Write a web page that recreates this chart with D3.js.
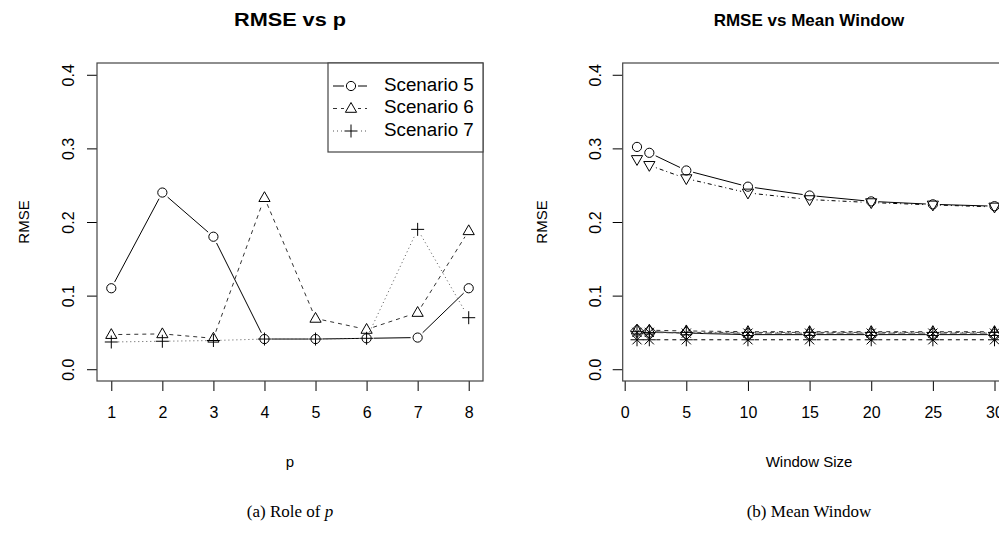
<!DOCTYPE html>
<html>
<head>
<meta charset="utf-8">
<script src="https://cdn.jsdelivr.net/npm/d3@7"></script>
<style>
  body { margin: 0; background: #fff; }
  svg { display: block; }
  text { font-family: "Liberation Sans", Arial, sans-serif; fill: #000; }
  .caption { font-family: "Liberation Serif", "Times New Roman", serif; }
</style>
</head>
<body>
<svg id="viz"></svg>
<script>
// 1. Data
const pValues = [1, 2, 3, 4, 5, 6, 7, 8];
const scenario5 = [0.110, 0.240, 0.180, 0.041, 0.041, 0.042, 0.043, 0.110];
const scenario6 = [0.047, 0.048, 0.042, 0.233, 0.069, 0.054, 0.077, 0.188];
const scenario7 = [0.037, 0.038, 0.039, 0.041, 0.041, 0.042, 0.190, 0.070];

const windowSizes = [1, 2, 5, 10, 15, 20, 25, 30];
const winCircle   = [0.302, 0.294, 0.270, 0.248, 0.236, 0.228, 0.224, 0.2215];
const winTriDown  = [0.285, 0.277, 0.259, 0.2395, 0.2305, 0.2264, 0.2232, 0.2205];
const winTriUp    = [0.053, 0.053, 0.052, 0.051, 0.051, 0.051, 0.051, 0.051];
const winDiamond  = [0.052, 0.051, 0.049, 0.047, 0.047, 0.047, 0.047, 0.047];
const winPlus     = [0.051, 0.050, 0.050, 0.050, 0.050, 0.050, 0.050, 0.050];
const winCross    = [0.050, 0.050, 0.049, 0.049, 0.049, 0.049, 0.049, 0.049];
const winStar     = [0.040, 0.040, 0.040, 0.040, 0.040, 0.040, 0.040, 0.040];

const yTicks = [0, 0.1, 0.2, 0.3, 0.4];
const pTicks = [1, 2, 3, 4, 5, 6, 7, 8];
const wTicks = [0, 5, 10, 15, 20, 25, 30];
const legendNames = ["Scenario 5", "Scenario 6", "Scenario 7"];

// 2. Canvas
const width = 999, height = 534;
const svg = d3.select("#viz").attr("width", width).attr("height", height);

// R style line types
const lty = { solid: null, dashed: "4,4", dotted: "1,3", dotdash: "1,3,4,3", longdash: "7,3" };

// R style plotting symbols
function pch(g, type, cx, cy) {
  const s = g.append("g").attr("transform", "translate(" + cx + "," + cy + ")")
             .attr("fill", "none").attr("stroke", "#000").attr("stroke-width", 1);
  if (type === "circle") s.append("circle").attr("r", 4.6);
  if (type === "triUp") s.append("path").attr("d", "M0,-6L5.6,3.8L-5.6,3.8Z");
  if (type === "triDown") s.append("path").attr("d", "M0,6L5.6,-3.8L-5.6,-3.8Z");
  if (type === "diamond") s.append("path").attr("d", "M0,-6.5L6.5,0L0,6.5L-6.5,0Z");
  if (type === "plus" || type === "star") s.append("path").attr("d", "M-6.5,0H6.5M0,-6.5V6.5");
  if (type === "cross" || type === "star") s.append("path").attr("d", "M-4.6,-4.6L4.6,4.6M-4.6,4.6L4.6,-4.6");
}

// type = "b": segments broken around the points
function series(g, xs, ys, x, y, dash, sym, color) {
  const pts = xs.map((d, i) => [x(d), y(ys[i])]);
  const gap = 7;
  for (let i = 0; i < pts.length - 1; i++) {
    const [x0, y0] = pts[i], [x1, y1] = pts[i + 1];
    const len = Math.hypot(x1 - x0, y1 - y0);
    if (len <= 2 * gap) continue;
    const ux = (x1 - x0) / len, uy = (y1 - y0) / len;
    g.append("line")
     .attr("x1", x0 + ux * gap).attr("y1", y0 + uy * gap)
     .attr("x2", x1 - ux * gap).attr("y2", y1 - uy * gap)
     .attr("stroke", color || "#000").attr("stroke-width", 1)
     .attr("stroke-dasharray", dash);
  }
  pts.forEach(p => pch(g, sym, p[0], p[1]));
}

function panel(opts) {
  const g = svg.append("g");
  const x = d3.scaleLinear().domain(opts.xDomain).range([opts.left, opts.right]);
  const y = d3.scaleLinear().domain([-0.016, 0.416]).range([381, 63]);

  const xAxis = g.append("g").attr("transform", "translate(0,381)")
    .call(d3.axisBottom(x).tickValues(opts.xTicks).tickSize(10).tickSizeOuter(0).tickPadding(16));
  const yAxis = g.append("g").attr("transform", "translate(" + opts.left + ",0)")
    .call(d3.axisLeft(y).tickValues(yTicks).tickSize(10).tickSizeOuter(0).tickFormat(d3.format(".1f")));
  [xAxis, yAxis].forEach(a => {
    a.select(".domain").remove();
    a.selectAll("line").attr("stroke", "#000");
    a.selectAll("text").style("font-size", "16px").style("font-family", "Liberation Sans, Arial, sans-serif");
  });
  yAxis.selectAll("text")
       .attr("text-anchor", "middle").attr("dy", null).attr("x", null)
       .attr("transform", "translate(" + opts.yTickOff + ",0) rotate(-90)")
       .attr("dominant-baseline", "middle");

  g.append("rect").attr("x", opts.left).attr("y", 63)
   .attr("width", opts.right - opts.left).attr("height", 318)
   .attr("fill", "none").attr("stroke", "#444").attr("stroke-width", 1.2);

  const title = g.append("text").attr("x", opts.titleX).attr("y", 26).attr("text-anchor", "middle")
   .style("font-size", opts.titleSize + "px").style("font-weight", "bold").text(opts.title);
  if (opts.titleLen) title.attr("textLength", opts.titleLen).attr("lengthAdjust", "spacingAndGlyphs");
  g.append("text").attr("x", opts.titleX).attr("y", 467).attr("text-anchor", "middle")
   .style("font-size", "15px").text(opts.xLabel);
  g.append("text").attr("transform", "translate(" + opts.yLabelX + ",222) rotate(-90)")
   .attr("text-anchor", "middle").attr("dominant-baseline", "middle")
   .style("font-size", "15px").text("RMSE");
  g.append("text").attr("class", "caption").attr("x", opts.titleX).attr("y", 517)
   .attr("text-anchor", "middle").style("font-size", "17px").html(opts.caption);
  return { g, x, y };
}

// 3. Left panel: RMSE vs p
const left = panel({ xDomain: [0.72, 8.28], left: 97, right: 483, xTicks: pTicks,
  title: "RMSE vs p", xLabel: "p", titleX: 290, titleSize: 17.5, titleLen: 112,
  yLabelX: 25, yTickOff: -27,
  caption: '(a) Role of <tspan font-style="italic">p</tspan>' });
series(left.g, pValues, scenario5, left.x, left.y, lty.solid, "circle");
series(left.g, pValues, scenario6, left.x, left.y, lty.dashed, "triUp", "#333");
series(left.g, pValues, scenario7, left.x, left.y, lty.dotted, "plus", "#555");

// legend
const lg = left.g.append("g");
lg.append("rect").attr("x", 328).attr("y", 63).attr("width", 155).attr("height", 89)
  .attr("fill", "#fff").attr("stroke", "#444").attr("stroke-width", 1.2);
const legDash = [lty.solid, lty.dashed, lty.dotted];
const legSym = ["circle", "triUp", "plus"];
const legCol = ["#000", "#333", "#555"];
legendNames.forEach((name, i) => {
  const yy = 86 + i * 22.5;
  lg.append("line").attr("x1", 333).attr("x2", 367).attr("y1", yy).attr("y2", yy)
    .attr("stroke", legCol[i]).attr("stroke-dasharray", legDash[i]);
  lg.append("rect").attr("x", 344).attr("y", yy - 7).attr("width", 14).attr("height", 14).attr("fill", "#fff");
  pch(lg, legSym[i], 351, yy);
  lg.append("text").attr("x", 384).attr("y", yy).attr("dominant-baseline", "middle")
    .style("font-size", "18.8px").text(name);
});

// 4. Right panel: RMSE vs Mean Window
const right = panel({ xDomain: [-0.16, 31.16], left: 622.7, right: 1008.8, xTicks: wTicks,
  title: "RMSE vs Mean Window", xLabel: "Window Size", titleX: 809, titleSize: 17,
  yLabelX: 543, yTickOff: -26,
  caption: "(b) Mean Window" });
series(right.g, windowSizes, winCircle, right.x, right.y, lty.solid, "circle");
series(right.g, windowSizes, winTriDown, right.x, right.y, lty.dotdash, "triDown");
series(right.g, windowSizes, winTriUp, right.x, right.y, lty.dashed, "triUp", "#333");
series(right.g, windowSizes, winDiamond, right.x, right.y, lty.solid, "diamond");
series(right.g, windowSizes, winPlus, right.x, right.y, lty.dotdash, "plus", "#444");
series(right.g, windowSizes, winCross, right.x, right.y, lty.longdash, "cross", "#555");
series(right.g, windowSizes, winStar, right.x, right.y, lty.dashed, "star");
</script>
</body>
</html>
